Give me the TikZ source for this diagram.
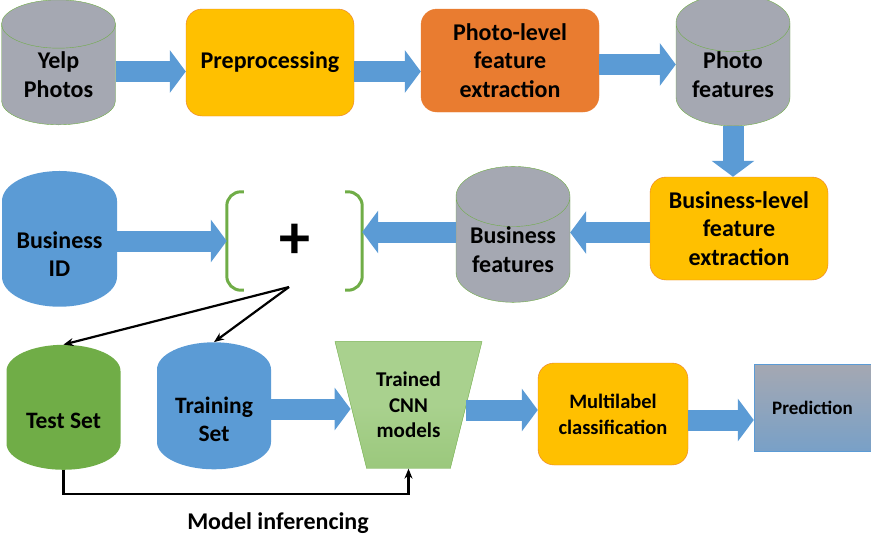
\documentclass[tikz,border=0pt]{standalone}
\usepackage{fontspec}
\setmainfont{Carlito}
\usetikzlibrary{shapes.geometric, arrows.meta, positioning, calc}
\definecolor{dbgray}{HTML}{A5A8B2}
\definecolor{stepyellow}{HTML}{FFC000}
\definecolor{steporange}{HTML}{E97C30}
\definecolor{flowblue}{HTML}{5B9BD5}
\definecolor{setgreen}{HTML}{70AD47}
\definecolor{modelgreen}{HTML}{A9D18E}

\begin{document}
\begin{tikzpicture}[
    x=1pt, y=-1pt,
    box/.style={rectangle, draw=steporange, fill=stepyellow, thin, text=black, align=center, rounded corners=16pt, font=\fontsize{24}{28.5}\selectfont\bfseries},
    databox/.style={cylinder, shape border rotate=90, aspect=0.7, draw=setgreen, fill=dbgray, thin, text=black, align=center, minimum height=125pt, minimum width=114pt, inner sep=0pt, font=\fontsize{24}{28.5}\selectfont\bfseries},
    arrow/.style={line width=21pt, draw=flowblue, -{Triangle[length=16pt, width=42pt]}},
    thinarrow/.style={line width=2.2pt, draw=black, -{Stealth[length=10pt, width=8pt]}},
    bracket/.style={line width=3pt, draw=setgreen, rounded corners=14pt}
]
    \useasboundingbox (0,0) rectangle (871,552);

    % Nodes
    \node[databox] (yelp) at (58.5,74.5) {Yelp\\Photos};
    \node[box, minimum width=168pt, minimum height=107pt] (prep) at (270,62.5) {Preprocessing};
    \node[box, fill=steporange, minimum width=178pt, minimum height=103pt] (photolevel) at (510,60.5) {Photo-level\\feature\\extraction};
    \node[databox] (photofeat) at (733,74.5) {Photo\\features};
    \node[box, minimum width=178pt, minimum height=103pt] (buslevel) at (739,228.5) {Business-level\\feature\\extraction};
    \node[databox] (busfeat) at (513,249.5) {Business\\features};
    \node[minimum width=135pt, minimum height=98pt, inner sep=0pt, font=\fontsize{62}{62}\selectfont\bfseries] (join) at (294.5,241) {+};
    \node[databox, draw=none, fill=flowblue, minimum width=115pt] (busid) at (59.5,254) {Business\\ID};
    \coordinate (split) at (289,287);
    \node[databox, draw=none, fill=setgreen, font=\fontsize{23.5}{28.5}\selectfont\bfseries] (testset) at (63.5,420.5) {Test Set};
    \node[databox, draw=none, fill=flowblue, font=\fontsize{23.5}{28.5}\selectfont\bfseries] (trainset) at (214,419.5) {Training\\Set};
    \node[trapezium, trapezium angle=104, trapezium stretches body, draw=setgreen, thin,
          top color=modelgreen, bottom color=modelgreen!75!setgreen, middle color=modelgreen,
          minimum width=147pt, inner xsep=0pt, inner ysep=30.5pt, align=center,
          font=\fontsize{21}{25.5}\selectfont\bfseries] (cnn) at (408.5,405) {Trained\\CNN\\models};
    \node[box, minimum width=150pt, minimum height=102pt, font=\fontsize{20.5}{26}\selectfont\bfseries] (multilabel) at (613,414) {Multilabel\\classification};
    \node[rectangle, draw=flowblue, thin, top color=dbgray, bottom color=flowblue!60!dbgray,
          minimum width=117pt, minimum height=87pt, inner sep=0pt,
          font=\fontsize{19}{22}\selectfont\bfseries] (predict) at (812.5,407.5) {Prediction};
    \node[font=\fontsize{24}{28.5}\selectfont\bfseries] (inflabel) at (278,523) {Model inferencing};

    % Brackets
    \draw[bracket] ([xshift=17pt]join.north west) -- (join.north west) -- (join.south west) -- ([xshift=17pt]join.south west);
    \draw[bracket] ([xshift=-17pt]join.north east) -- (join.north east) -- (join.south east) -- ([xshift=-17pt]join.south east);

    % Connections
    \draw[arrow] ([yshift=-9pt]prep.west -| yelp.east) -- ([yshift=-9pt]prep.west);
    \draw[arrow] ([yshift=-9pt]prep.east) -- ([yshift=-9pt]prep.east -| photolevel.west);
    \draw[arrow] ([yshift=-4pt]photolevel.east) -- ([yshift=-4pt]photolevel.east -| photofeat.west);
    \draw[arrow] (photofeat.south) -- (photofeat.south |- buslevel.north);
    \draw[arrow] ([yshift=-4pt]buslevel.west) -- ([yshift=-4pt]buslevel.west -| busfeat.east);
    \draw[arrow] ([yshift=9pt]join.east -| busfeat.west) -- ([yshift=9pt]join.east);
    \draw[arrow] (join.west -| busid.east) -- (join.west);
    \draw[thinarrow] (split) -- (testset.north);
    \draw[thinarrow] (split) -- (trainset.north);
    \draw[arrow] ([yshift=-4pt]cnn.west -| trainset.east) -- ([yshift=-4pt]cnn.west);
    \draw[arrow] ([yshift=-5pt]cnn.east) -- ([yshift=-5pt]cnn.east -| multilabel.west);
    \draw[arrow] ([yshift=-6pt]multilabel.east) -- ([yshift=-6pt]multilabel.east -| predict.west);
    \draw[thinarrow] (testset.south) -- ++(0,24) -| (cnn.south);
\end{tikzpicture}
\end{document}
